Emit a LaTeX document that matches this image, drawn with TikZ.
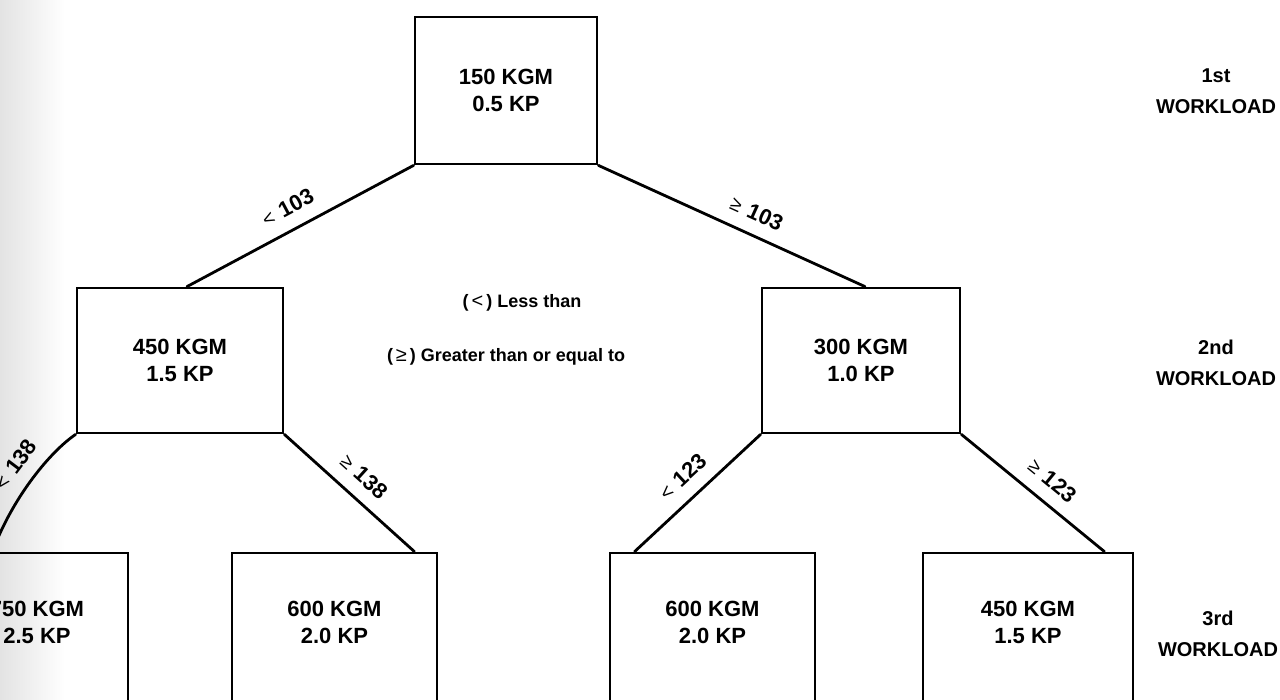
\documentclass[tikz,border=0pt]{standalone}
\usepackage{fontspec}
\setmainfont{Liberation Sans}
\usetikzlibrary{calc}
\newcommand\relsym[1]{{\fontsize{20pt}{20pt}\selectfont\mdseries #1}}
\begin{document}
\begin{tikzpicture}[x=1pt,y=-1pt,
  wbox/.style={draw, line width=2.8pt, minimum width=#1, minimum height=145pt,
    inner sep=0pt, align=center, font=\fontsize{22pt}{27pt}\selectfont\bfseries},
  wbox/.default=205pt,
  boxtext/.style={align=center, inner sep=0pt, font=\fontsize{22pt}{27pt}\selectfont\bfseries},
  conn/.style={line width=2.8pt, line cap=round},
  elabel/.style={sloped, anchor=south, inner xsep=1pt, inner ysep=13pt,
    font=\fontsize{22pt}{22pt}\selectfont\bfseries},
  legend/.style={inner sep=0pt, font=\fontsize{18pt}{18pt}\selectfont\bfseries},
  level/.style={inner sep=0pt, align=center, font=\fontsize{20pt}{31pt}\selectfont\bfseries}]
\useasboundingbox (0,0) rectangle (1280,700);
\clip (0,0) rectangle (1280,700);
\shade[left color=black!11, right color=white] (0,0) rectangle (65,700);

% boxes
\node[wbox=182pt, minimum height=147pt] (T) at (506,90.5) {150 KGM\\0.5 KP};
\node[wbox=206pt] (L) at (180,360.5) {450 KGM\\1.5 KP};
\node[wbox=198pt] (R) at (861,360.5) {300 KGM\\1.0 KP};
\node[wbox=182pt, minimum height=175pt] (B1) at (37,640.5) {};
\node[wbox=205pt, minimum height=175pt] (B2) at (334.5,640.5) {};
\node[wbox=205pt, minimum height=175pt] (B3) at (712.5,640.5) {};
\node[wbox=210pt, minimum height=175pt] (B4) at (1028,640.5) {};
\node[boxtext] (B1t) at ([yshift=-71pt]B1.north) {750 KGM\\2.5 KP};
\node[boxtext] (B2t) at ([yshift=-71pt]B2.north) {600 KGM\\2.0 KP};
\node[boxtext] (B3t) at ([yshift=-71pt]B3.north) {600 KGM\\2.0 KP};
\node[boxtext] (B4t) at ([yshift=-71pt]B4.north) {450 KGM\\1.5 KP};

% connectors
\coordinate (e1) at (-5,545);
\draw[conn] (T.south west) -- node[elabel, pos=0.51] (l1) {\relsym{<}\,\,103} ([xshift=7pt]L.north);
\draw[conn] (T.south east) -- node[elabel, pos=0.56] (l2) {\relsym{≥}\,\,103} ([xshift=4pt]R.north);
\draw[conn] (L.south west) .. controls (50,452) and (15,495) .. node[elabel, pos=0.5] (l3) {\relsym{<}\,\,138} (e1);
\draw[conn] (L.south east) -- node[elabel, pos=0.5] (l4) {\relsym{≥}\,\,138} ([xshift=-24pt]B2.north east);
\draw[conn] (R.south west) -- node[elabel, pos=0.5] (l5) {\relsym{<}\,\,123} ([xshift=26pt]B3.north west);
\draw[conn] (R.south east) -- node[elabel, pos=0.54] (l6) {\relsym{≥}\,\,123} ([xshift=-30pt]B4.north east);

% legend
\node[legend] (lg1) at (522,303) {(\,\relsym{<}\,) Less than};
\node[legend] (lg2) at (506,357) {(\,\relsym{≥}\,) Greater than or equal to};

% level labels
\node[level] (w1) at (1216,91) {1st\\WORKLOAD};
\node[level] (w2) at (1216,363) {2nd\\WORKLOAD};
\node[level] (w3) at (1218,634) {3rd\\WORKLOAD};
\end{tikzpicture}
\end{document}
